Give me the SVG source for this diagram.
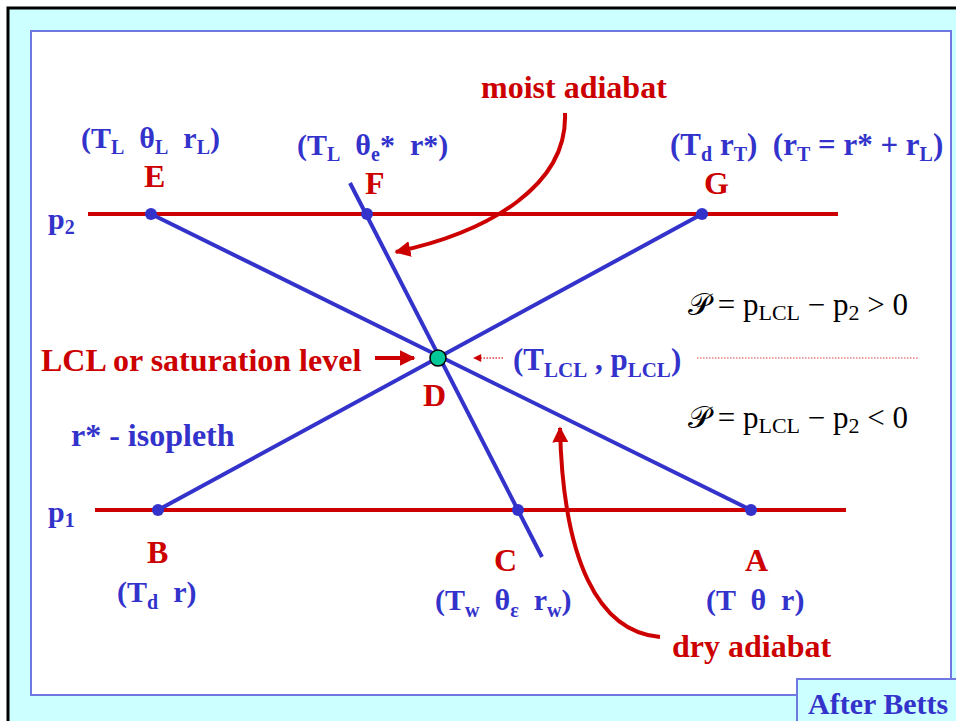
<svg xmlns="http://www.w3.org/2000/svg" width="956" height="721" viewBox="0 0 956 721">
<defs>
<style>
text{white-space:pre}
.bl{font-family:"Liberation Serif","Times New Roman",serif;font-weight:bold;fill:#3333CC;font-size:30px}
.rd{font-family:"Liberation Serif","Times New Roman",serif;font-weight:bold;fill:#CC0000;font-size:32px}
.mt{font-family:"Liberation Serif","DejaVu Serif",serif;fill:#000;font-size:31px}
.s{font-size:20px}
.ms{font-size:22px}
.redl{stroke:#CC0000;stroke-width:4;fill:none}
.bll{stroke:#3333CC;stroke-width:4;fill:none}
.pt{fill:#3333CC}
</style>
<marker id="ah" viewBox="0 0 10 10" refX="9" refY="5" markerWidth="4" markerHeight="4" orient="auto" markerUnits="strokeWidth"><path d="M0,0 L10,5 L0,10 z" fill="#CC0000"/></marker>
<marker id="ahs" viewBox="0 0 10 10" refX="9" refY="5" markerWidth="10" markerHeight="8" orient="auto" markerUnits="userSpaceOnUse"><path d="M0,0 L10,5 L0,10 z" fill="#CC0000"/></marker>
</defs>
<rect x="8" y="8" width="960" height="730" fill="#CCFFFF" stroke="#000" stroke-width="3"/>
<rect x="31" y="31" width="920" height="664" fill="#fff" stroke="#6E78E0" stroke-width="2"/>
<g id="connectors">
<line class="redl" x1="88" y1="214" x2="838" y2="214"/>
<line class="redl" x1="95" y1="510" x2="846" y2="510"/>
<line class="bll" x1="151" y1="214" x2="751" y2="510"/>
<line class="bll" x1="158" y1="510" x2="702" y2="214"/>
<line class="bll" x1="350" y1="183" x2="542" y2="557"/>
<path class="redl" d="M565,113 C568,185 490,232 396,252" marker-end="url(#ah)"/>
<path class="redl" d="M660,637 C598,632 563,560 560,428" marker-end="url(#ah)"/>
<line class="redl" x1="375" y1="358" x2="414" y2="358" marker-end="url(#ah)"/>
<line x1="503" y1="358" x2="474" y2="358" stroke="#E04040" stroke-width="1.5" stroke-dasharray="1.5,1.5" marker-end="url(#ahs)"/>
<line x1="697" y1="358" x2="918" y2="358" stroke="#E04040" stroke-width="1.2" stroke-dasharray="1.5,1.5"/>
</g>
<g id="E"><circle class="pt" cx="151" cy="214" r="6"/><text class="rd" x="144" y="187">E</text><text class="bl" x="81" y="148">(T<tspan class="s" dy="6">L</tspan><tspan dy="-6">  θ</tspan><tspan class="s" dy="6">L</tspan><tspan dy="-6">  r</tspan><tspan class="s" dy="6">L</tspan><tspan dy="-6">)</tspan></text></g>
<g id="F"><circle class="pt" cx="367" cy="214" r="6"/><text class="rd" x="365" y="194">F</text><text class="bl" x="297" y="155">(T<tspan class="s" dy="6">L</tspan><tspan dy="-6">  θ</tspan><tspan class="s" dy="6">e</tspan><tspan dy="-6">*  r*)</tspan></text></g>
<g id="G"><circle class="pt" cx="702" cy="214" r="6"/><text class="rd" x="704" y="194">G</text><text class="bl" x="670" y="155" style="font-size:31px">(T<tspan class="s" dy="6">d</tspan><tspan dy="-6"> r</tspan><tspan class="s" dy="6">T</tspan><tspan dy="-6">)  (r</tspan><tspan class="s" dy="6">T</tspan><tspan dy="-6"> = r* + r</tspan><tspan class="s" dy="6">L</tspan><tspan dy="-6">)</tspan></text></g>
<g id="B"><circle class="pt" cx="158" cy="510" r="6"/><text class="rd" x="147" y="563">B</text><text class="bl" x="117" y="602">(T<tspan class="s" dy="7">d</tspan><tspan dy="-7">  r)</tspan></text></g>
<g id="C"><circle class="pt" cx="518" cy="510" r="6"/><text class="rd" x="494" y="571">C</text><text class="bl" x="435" y="610">(T<tspan class="s" dy="7">w</tspan><tspan dy="-7">  θ</tspan><tspan class="s" dy="7">ε</tspan><tspan dy="-7">  r</tspan><tspan class="s" dy="7">w</tspan><tspan dy="-7">)</tspan></text></g>
<g id="A"><circle class="pt" cx="751" cy="510" r="6"/><text class="rd" x="745" y="571">A</text><text class="bl" x="706" y="610">(T  θ  r)</text></g>
<g id="D"><circle cx="438" cy="358" r="8" fill="#00C896" stroke="#000" stroke-width="1.5"/><text class="rd" x="423" y="406">D</text><text class="bl" x="513" y="370" style="font-size:31px">(T<tspan style="font-size:21px" dy="7">LCL</tspan><tspan dy="-7"> , p</tspan><tspan style="font-size:21px" dy="7">LCL</tspan><tspan dy="-7">)</tspan></text></g>
<g id="labels">
<text class="rd" x="481" y="98">moist adiabat</text>
<text class="rd" x="672" y="657">dry adiabat</text>
<text class="rd" x="41" y="371">LCL or saturation level</text>
<text class="bl" x="71" y="446" style="font-size:32px">r* - isopleth</text>
<text class="bl" x="48" y="229">p<tspan class="s" dy="5">2</tspan></text>
<text class="bl" x="48" y="522">p<tspan class="s" dy="5">1</tspan></text>
<text class="mt" x="688" y="315">𝒫 = p<tspan class="ms" dy="5">LCL</tspan><tspan dy="-5"> − p</tspan><tspan class="ms" dy="5">2</tspan><tspan dy="-5"> &gt; 0</tspan></text>
<text class="mt" x="688" y="428">𝒫 = p<tspan class="ms" dy="5">LCL</tspan><tspan dy="-5"> − p</tspan><tspan class="ms" dy="5">2</tspan><tspan dy="-5"> &lt; 0</tspan></text>
</g>
<g id="credit"><rect x="797" y="679" width="170" height="50" fill="#CCFFFF" stroke="#6E78E0" stroke-width="2"/><text class="bl" x="808" y="714">After Betts</text></g>
</svg>
